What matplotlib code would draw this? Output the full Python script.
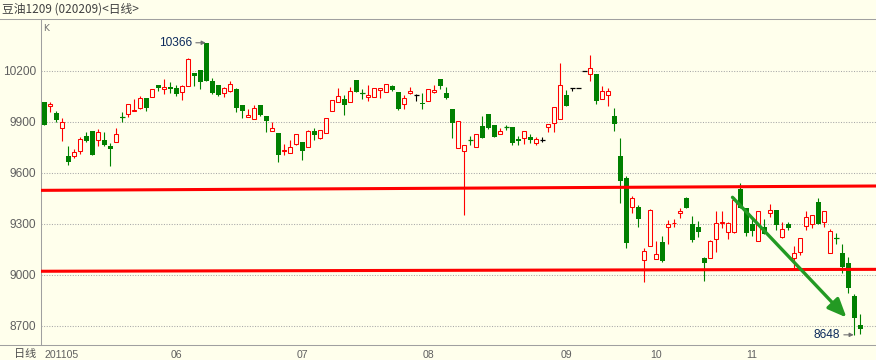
"""
豆油1209 日线K线图
"""

import numpy as np
import matplotlib

matplotlib.use("Agg")  # noqa: E402
import matplotlib.pyplot as plt  # noqa: E402
from matplotlib.lines import Line2D  # noqa: E402

# 日K数据 (开, 高, 低, 收)
opens = [10019, 9992, 9951, 9863, 9700, 9698, 9728, 9818, 9847, 9796,
         9792, 9757, 9781, 9929, 9945, 9965, 9981, 10039, 10045, 10118,
         10092, 10106, 10102, 10078, 10114, 10188, 10206, 10366, 10141, 10118,
         10072, 10082, 10094, 10000, 9928, 9916, 10000, 9935, 9845, 9833,
         9728, 9716, 9772, 9782, 9755, 9847, 9808, 9833, 9966, 10016,
         10033, 10019, 10147, 10071, 10045, 10049, 10086, 10075, 10112, 10075,
         10004, 10072, 10061, 10012, 10022, 10075, 10151, 10071, 9975, 9745,
         9728, 9796, 9755, 9876, 9945, 9882, 9831, 9873, 9871, 9800,
         9808, 9812, 9778, 9796, 9872, 9896, 9916, 10059, 10098, 10098,
         10202, 10181, 10181, 10033, 10057, 9935, 9700, 9569, 9398, 9398,
         9086, 9169, 9097, 9196, 9284, 9303, 9363, 9453, 9300, 9282,
         9098, 9098, 9210, 9304, 9255, 9255, 9504, 9392, 9300, 9202,
         9284, 9366, 9382, 9225, 9300, 9098, 9133, 9290, 9298, 9429,
         9310, 9128, 9218, 9128, 9069, 8876, 8706]
highs = [10020, 10019, 9965, 9922, 9759, 9741, 9814, 9843, 9847, 9859,
         9843, 9776, 9865, 9957, 10004, 10033, 10053, 10043, 10092, 10118,
         10155, 10133, 10118, 10118, 10278, 10188, 10206, 10366, 10161, 10118,
         10108, 10141, 10102, 10000, 9975, 10000, 10000, 9935, 9902, 9833,
         9771, 9794, 9828, 9782, 9853, 9863, 9851, 9922, 10028, 10098,
         10059, 10104, 10147, 10092, 10118, 10098, 10100, 10122, 10118, 10075,
         10059, 10104, 10065, 10071, 10092, 10118, 10151, 10104, 9975, 9904,
         9765, 9819, 9828, 9935, 9945, 9882, 9863, 9882, 9871, 9819,
         9845, 9831, 9812, 9812, 9888, 9988, 10249, 10088, 10098, 10098,
         10202, 10294, 10181, 10112, 10098, 9982, 9804, 9582, 9465, 9410,
         9159, 9388, 9199, 9229, 9324, 9329, 9396, 9461, 9349, 9318,
         9104, 9206, 9376, 9376, 9314, 9461, 9539, 9396, 9331, 9375,
         9329, 9416, 9382, 9314, 9314, 9171, 9216, 9375, 9351, 9453,
         9375, 9269, 9245, 9182, 9104, 8888, 8771]
lows = [9880, 9957, 9898, 9790, 9649, 9686, 9712, 9781, 9704, 9761,
        9759, 9643, 9781, 9898, 9928, 9963, 9976, 9966, 10045, 10082,
        10065, 10072, 10055, 10028, 10114, 10114, 10092, 10143, 10063, 10051,
        10045, 10078, 9957, 9922, 9928, 9916, 9935, 9843, 9845, 9666,
        9708, 9716, 9766, 9676, 9755, 9794, 9800, 9833, 9966, 10016,
        9941, 10019, 10078, 10037, 10025, 10045, 10043, 10075, 10084, 9971,
        9978, 10066, 10025, 9978, 10022, 10069, 10094, 10037, 9804, 9745,
        9353, 9765, 9755, 9808, 9859, 9812, 9831, 9851, 9765, 9765,
        9772, 9778, 9766, 9781, 9843, 9843, 9916, 9996, 10084, 10098,
        10202, 10143, 10008, 10033, 9996, 9849, 9422, 9157, 9366, 9281,
        8961, 9169, 9097, 9078, 9182, 9284, 9337, 9396, 9196, 9225,
        8966, 9098, 9137, 9275, 9212, 9245, 9392, 9231, 9231, 9202,
        9239, 9343, 9265, 9219, 9265, 9034, 9118, 9265, 9275, 9300,
        9281, 9128, 9182, 9014, 8896, 8648, 8653]
closes = [9882, 10006, 9910, 9898, 9665, 9722, 9798, 9788, 9708, 9843,
          9766, 9743, 9828, 9925, 10004, 9969, 10043, 9984, 10092, 10098,
          10106, 10092, 10065, 10112, 10271, 10172, 10137, 10143, 10072, 10059,
          10098, 10122, 9981, 9965, 9941, 9981, 9941, 9908, 9863, 9708,
          9735, 9751, 9828, 9731, 9847, 9825, 9851, 9922, 10028, 10051,
          10002, 10081, 10078, 10066, 10057, 10098, 10100, 10122, 10090, 9976,
          10039, 10081, 10061, 10004, 10092, 10086, 10114, 10043, 9896, 9904,
          9765, 9792, 9828, 9808, 9866, 9812, 9847, 9869, 9776, 9788,
          9845, 9794, 9800, 9796, 9888, 9988, 10116, 9996, 10098, 10098,
          10202, 10216, 10025, 10081, 10081, 9890, 9555, 9190, 9451, 9328,
          9139, 9380, 9122, 9084, 9300, 9305, 9376, 9396, 9206, 9255,
          9072, 9202, 9304, 9314, 9308, 9441, 9392, 9249, 9261, 9375,
          9239, 9380, 9294, 9269, 9278, 9128, 9216, 9339, 9351, 9300,
          9375, 9259, 9214, 9049, 8922, 8749, 8682]

month_pos = [0, 21, 42, 63, 86, 101, 117]
month_labels = ["201105", "06", "07", "08", "09", "10", "11"]
price_ticks = [8700, 9000, 9300, 9600, 9900, 10200]

# 画线: (起点序号, 价格, 终点序号, 价格)
upper_line = (0, 9498, 136, 9523)
lower_line = (0, 9022, 136, 9033)
trend_arrow = (114.7, 9457, 133.7, 8750)

BG = "#ffffec"
RED = "#ff0000"
GREEN = "#008000"
GRAY = "#a0a0a0"

plt.rcParams["font.family"] = ["Liberation Sans", "Noto Sans CJK SC", "DejaVu Sans"]
plt.rcParams["axes.unicode_minus"] = False

W, H = 876, 360
fig = plt.figure(figsize=(W / 100, H / 100), dpi=100, facecolor=BG)
ax = fig.add_axes([41 / W, 15 / H, 835 / W, 326 / H], facecolor=BG)

o = np.array(opens, dtype=float)
h = np.array(highs, dtype=float)
lo = np.array(lows, dtype=float)
c = np.array(closes, dtype=float)
x = np.arange(len(o))

up = c > o
down = c < o
flat = c == o
colors = np.where(up, RED, np.where(down, GREEN, "black"))

# 影线
ax.vlines(x, lo, h, colors=colors, lw=0.8, zorder=2)
# 阴线实心, 阳线空心
ax.bar(x[down], (o - c)[down], bottom=c[down], width=0.8, color=GREEN, lw=0, zorder=3)
ax.bar(x[up], (c - o)[up], bottom=o[up], width=0.62, facecolor=BG, edgecolor=RED, lw=0.75, zorder=3)
thin = down & ((o - c) < 8)
ax.hlines(((o + c) / 2)[thin], x[thin] - 0.4, x[thin] + 0.4, colors=GREEN, lw=0.9, zorder=3)
ax.hlines(o[flat], x[flat] - 0.4, x[flat] + 0.4, colors="black", lw=0.9, zorder=3)

# 水平线
for x1, y1, x2, y2 in (upper_line, lower_line):
    ax.axline((x1, y1), (x2, y2), color=RED, lw=2.2, zorder=4)

# 趋势箭头
ax.annotate(
    "", xy=trend_arrow[2:], xytext=trend_arrow[:2],
    arrowprops=dict(arrowstyle="-|>,head_length=0.7,head_width=0.3", color="#239a23",
                    lw=2.4, mutation_scale=16, shrinkA=0, shrinkB=0),
    zorder=5,
)

# 最高/最低价标注
imax = int(np.argmax(h))
imin = int(np.argmin(lo))
for idx, val in ((imax, h[imax]), (imin, lo[imin])):
    ax.annotate(
        f"{int(val)}", xy=(idx - 0.1, val), xytext=(-14, 0), textcoords="offset pixels",
        ha="right", va="center", fontsize=8.6, color="#0c2a5c",
        arrowprops=dict(arrowstyle="-|>", color="#707070", lw=0.8, mutation_scale=6, shrinkA=1, shrinkB=0),
        zorder=6,
    )

ax.set_xlim(-0.55, 138.62)
ax.set_ylim(8588.2, 10505.8)
ax.set_yticks(price_ticks)
ax.set_yticklabels([str(t) for t in price_ticks])
ax.set_xticks(month_pos)
ax.set_xticklabels(month_labels, ha="left")
ax.tick_params(axis="y", length=0, pad=3.6, labelsize=8.6, labelcolor="#606060")
ax.tick_params(axis="x", length=0, pad=3.4, labelsize=7.6, labelcolor="#606060")
ax.grid(axis="y", color="#a8a8a8", lw=0.75, ls=(0, (1, 1.5)))
ax.set_axisbelow(True)
for side in ("top", "right", "bottom"):
    ax.spines[side].set_visible(False)
ax.spines["left"].set_color(GRAY)
ax.spines["left"].set_linewidth(0.75)

# 分隔线
fig.add_artist(Line2D([0, 1], [341 / H, 341 / H], color=GRAY, lw=0.75))
fig.add_artist(Line2D([0, 1], [15 / H, 15 / H], color=GRAY, lw=0.75))

fig.text(2 / W, 1 - 9.5 / H, "豆油1209 (020209)<日线>", family=["Noto Sans CJK SC", "DejaVu Sans"],
         fontsize=8.5, va="center", color="#404040")
fig.text(43 / W, 1 - 28.5 / H, "K", family="DejaVu Sans", fontsize=6.5, va="center", color="#707070")
fig.text(36 / W, 1 - 353.5 / H, "日线", family=["Noto Sans CJK SC"], fontsize=8, ha="right", va="center",
         color="#505050")

fig.savefig("out.png", dpi=100, facecolor=BG)
plt.close(fig)
